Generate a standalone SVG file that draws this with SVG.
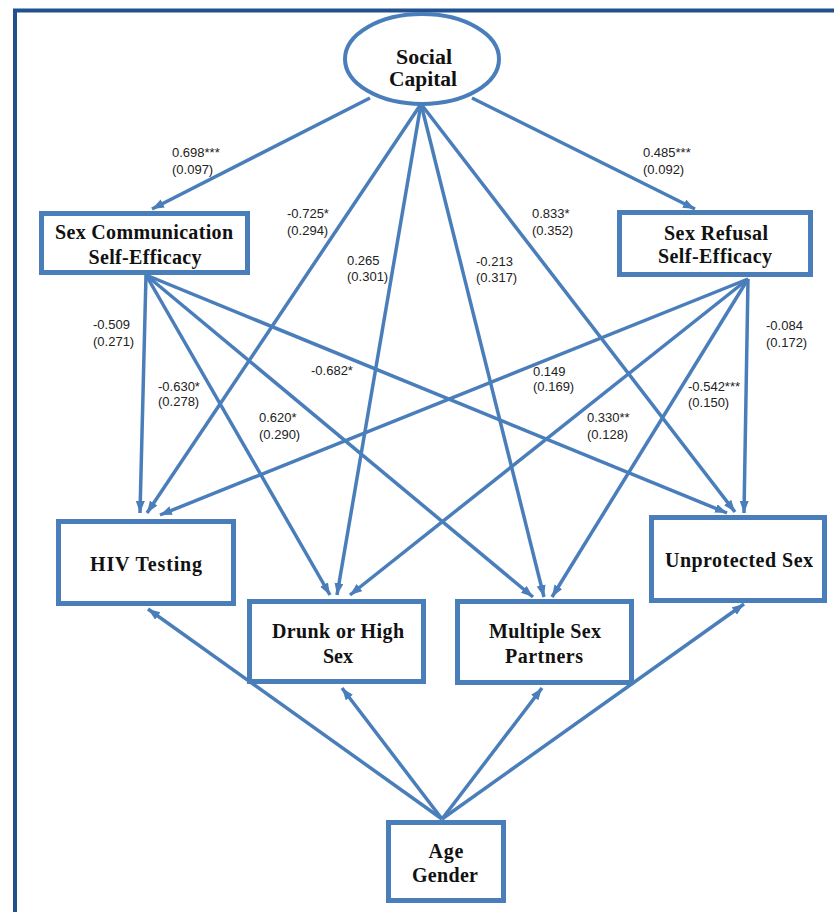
<svg xmlns="http://www.w3.org/2000/svg" width="834" height="912" viewBox="0 0 834 912">
<style>
.frame{fill:none;stroke:#21508e;stroke-width:4}
.node{fill:#fff;stroke:#4a7ebb;stroke-width:5}
.edge{fill:none;stroke:#4a7ebb;stroke-width:3.5;marker-end:url(#arr)}
.nt{font-family:"Liberation Serif","Times New Roman",serif;font-weight:bold;font-size:20px;fill:#111;text-anchor:middle}
.lb{font-family:"Liberation Sans",Arial,sans-serif;font-size:13px;fill:#222}
</style>
<defs>
<marker id="arr" markerUnits="userSpaceOnUse" markerWidth="13" markerHeight="10" refX="12" refY="4.5" orient="auto">
<path d="M0,0 L12,4.5 L0,9 z" fill="#4a7ebb"/>
</marker>
</defs>
<rect width="834" height="912" fill="#fff"/>
<path class="frame" d="M15,912 L15,10.5 L834,10.5"/>

<g id="connectors">
<line class="edge" x1="370" y1="98" x2="152" y2="209"/>
<line class="edge" x1="472" y1="98" x2="695" y2="209"/>
<line class="edge" x1="421" y1="104" x2="147" y2="513"/>
<line class="edge" x1="421" y1="104" x2="337" y2="595"/>
<line class="edge" x1="421" y1="104" x2="544" y2="597"/>
<line class="edge" x1="421" y1="104" x2="735" y2="512"/>
<line class="edge" x1="146" y1="275" x2="140" y2="513"/>
<line class="edge" x1="146" y1="275" x2="330" y2="595"/>
<line class="edge" x1="146" y1="275" x2="533" y2="597"/>
<line class="edge" x1="146" y1="275" x2="727" y2="513"/>
<line class="edge" x1="748" y1="279" x2="160" y2="515"/>
<line class="edge" x1="748" y1="279" x2="350" y2="595"/>
<line class="edge" x1="748" y1="279" x2="552" y2="597"/>
<line class="edge" x1="748" y1="279" x2="744" y2="513"/>
<line class="edge" x1="442" y1="819" x2="148" y2="609"/>
<line class="edge" x1="442" y1="819" x2="342" y2="688"/>
<line class="edge" x1="442" y1="819" x2="542" y2="688"/>
<line class="edge" x1="442" y1="819" x2="744" y2="604"/>
</g>

<g id="social-capital">
<ellipse cx="422" cy="59" rx="77" ry="45" fill="#fff" stroke="#4a7ebb" stroke-width="4"/>
<text class="nt" x="424" y="64" textLength="56" lengthAdjust="spacingAndGlyphs">Social</text>
<text class="nt" x="423" y="86" textLength="68" lengthAdjust="spacingAndGlyphs">Capital</text>
</g>

<g id="sex-communication">
<rect class="node" x="41.5" y="213.5" width="206" height="59"/>
<text class="nt" x="144" y="239" textLength="178">Sex Communication</text>
<text class="nt" x="145" y="264" textLength="113">Self-Efficacy</text>
</g>

<g id="sex-refusal">
<rect class="node" x="619.5" y="212.5" width="191" height="62"/>
<text class="nt" x="716" y="240" textLength="104">Sex Refusal</text>
<text class="nt" x="715" y="263" textLength="114">Self-Efficacy</text>
</g>

<g id="hiv-testing">
<rect class="node" x="58.5" y="521.5" width="175" height="82"/>
<text class="nt" x="146" y="571" textLength="112">HIV Testing</text>
</g>

<g id="drunk-high-sex">
<rect class="node" x="249.5" y="601.5" width="174" height="80"/>
<text class="nt" x="338" y="638" textLength="132">Drunk or High</text>
<text class="nt" x="338" y="663" textLength="30">Sex</text>
</g>

<g id="multiple-partners">
<rect class="node" x="457.5" y="601.5" width="174" height="81"/>
<text class="nt" x="545" y="638" textLength="112">Multiple Sex</text>
<text class="nt" x="544" y="663" textLength="78">Partners</text>
</g>

<g id="unprotected-sex">
<rect class="node" x="651.5" y="517.5" width="173" height="83"/>
<text class="nt" x="739" y="567" textLength="148">Unprotected Sex</text>
</g>

<g id="age-gender">
<rect class="node" x="388.5" y="822.5" width="115" height="78"/>
<text class="nt" x="446" y="858" textLength="35">Age</text>
<text class="nt" x="445" y="882" textLength="66">Gender</text>
</g>

<g id="labels">
<text class="lb" x="172" y="157">0.698***</text><text class="lb" x="172" y="174">(0.097)</text>
<text class="lb" x="643" y="157">0.485***</text><text class="lb" x="643" y="174">(0.092)</text>
<text class="lb" x="287" y="218">-0.725*</text><text class="lb" x="287" y="235">(0.294)</text>
<text class="lb" x="347" y="265">0.265</text><text class="lb" x="347" y="281">(0.301)</text>
<text class="lb" x="476" y="266">-0.213</text><text class="lb" x="476" y="282">(0.317)</text>
<text class="lb" x="532" y="218">0.833*</text><text class="lb" x="532" y="235">(0.352)</text>
<text class="lb" x="93" y="329">-0.509</text><text class="lb" x="93" y="346">(0.271)</text>
<text class="lb" x="158" y="391">-0.630*</text><text class="lb" x="158" y="406">(0.278)</text>
<text class="lb" x="259" y="422">0.620*</text><text class="lb" x="259" y="439">(0.290)</text>
<text class="lb" x="311" y="375">-0.682*</text>
<text class="lb" x="533" y="376">0.149</text><text class="lb" x="533" y="391">(0.169)</text>
<text class="lb" x="587" y="422">0.330**</text><text class="lb" x="587" y="439">(0.128)</text>
<text class="lb" x="688" y="391">-0.542***</text><text class="lb" x="688" y="407">(0.150)</text>
<text class="lb" x="766" y="330">-0.084</text><text class="lb" x="766" y="347">(0.172)</text>
</g>
</svg>
